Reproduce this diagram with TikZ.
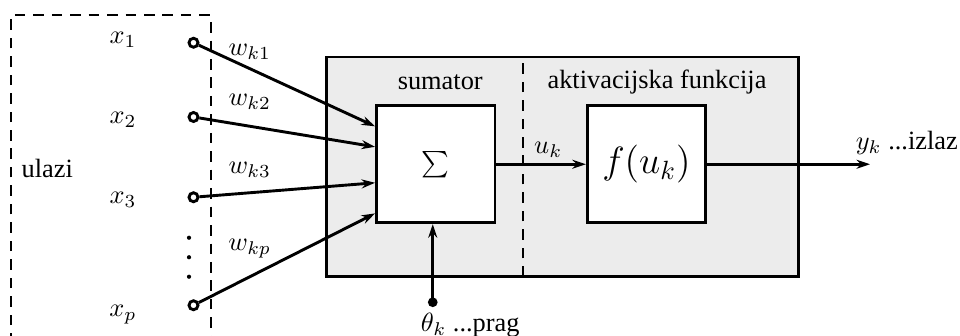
\documentclass[tikz,border=0pt]{standalone}
\usepackage[no-math]{fontspec}
\setmainfont{Liberation Serif}
\usetikzlibrary{arrows.meta, positioning}

\begin{document}
\begin{tikzpicture}[font=\normalsize, >={Stealth[length=1.8mm, width=1.2mm, inset=0.6mm]},
    blok/.style={draw, line width=1.1pt, fill=white, minimum width=1.58cm, minimum height=1.56cm},
    veza/.style={->, line width=1.1pt},
    ulaz/.style={circle, draw, line width=1.1pt, fill=white, inner sep=0pt, minimum size=0.12cm},
    crtkano/.style={dash pattern=on 4pt off 3pt, line width=0.6pt}]
    \useasboundingbox (0,0) rectangle (12.8,4.48);
    % neuron
    \draw[line width=1.1pt, fill=gray!15] (4.35,0.79) rectangle (10.65,3.72);
    \draw[crtkano] (6.97,0.79) -- (6.97,3.72);
    \node at (5.87,3.39) {sumator};
    \node at (8.76,3.39) {aktivacijska funkcija};
    \node[blok] (sum) at (5.81,2.29) {$\sum$};
    \node[blok] (act) at (8.62,2.29) {\Large $f(u_k)$};
    % ulazi
    \draw[crtkano] (0.15,-0.1) -- (0.15,4.28) -- (2.81,4.28) -- (2.81,-0.1);
    \node at (0.63,2.24) {ulazi};
    \foreach \y/\ly/\n/\wy/\a [count=\i] in {3.91/3.95/1/3.79/148, 2.92/2.88/2/3.12/164, 1.85/1.81/3/2.21/197, 0.41/0.28/p/1.17/219} {
        \node[ulaz] (in\i) at (2.58,\y) {};
        \node (x\i) at (1.64,\ly) {$x_{\n}$};
        \node (w\i) at (3.33,\wy) {$w_{k\n}$};
        \draw[veza] (in\i) -- (sum.\a);
    }
    \foreach \y in {1.31,1.05,0.79} {
        \fill (2.52,\y) circle (0.028);
    }
    % prag
    \fill (5.77,0.45) circle (0.065) coordinate (prag);
    \node (theta) at (6.27,0.15) {$\theta_k$ ...prag};
    \draw[veza] (prag) -- (sum.south -| prag);
    % izlaz
    \draw[veza] (sum.east) -- (act.west);
    \node (uk) at (7.31,2.48) {$u_k$};
    \coordinate (kraj) at (11.6,2.29);
    \draw[veza] (act.east) -- (kraj);
    \node (yk) at (12.09,2.57) {$y_k$ ...izlaz};
\end{tikzpicture}
\end{document}
